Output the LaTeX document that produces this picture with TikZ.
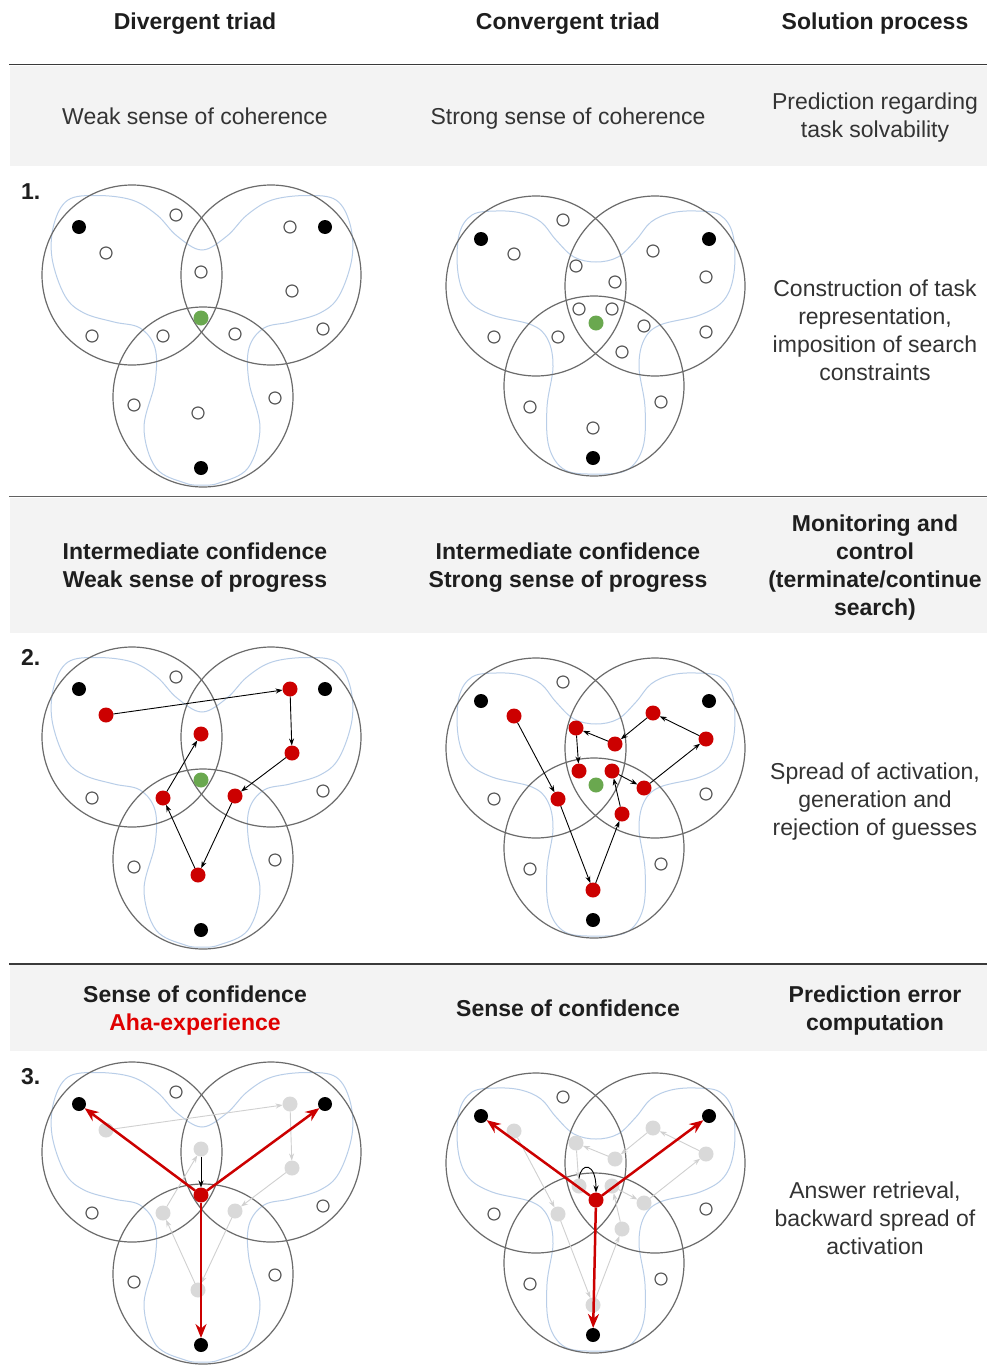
\documentclass[tikz,border=0pt]{standalone}
\usepackage{fontspec}
\setmainfont{Liberation Sans}
\usetikzlibrary{arrows.meta}
\definecolor{band}{HTML}{F3F3F3}
\definecolor{rulec}{HTML}{3A3A3A}
\definecolor{txt}{HTML}{333333}
\definecolor{hd}{HTML}{1E1E1E}
\definecolor{ringc}{HTML}{6B6B6B}
\definecolor{blobc}{HTML}{B9CEE8}
\definecolor{actred}{HTML}{CC0000}
\definecolor{ahared}{HTML}{E00000}
\definecolor{grn}{HTML}{6AA84F}
\definecolor{ghost}{HTML}{D9D9D9}
\definecolor{ghostline}{HTML}{D0D0D0}
\newcommand{\divrings}{%
  \draw[blob] plot[smooth cycle, tension=0.6] coordinates {(202,250) (227,236) (247,215) (272,200) (307,195.5) (336,200) (350,224) (352,258) (339,296) (320,313) (290,322) (264,328) (249,348) (249,382) (260,428) (248,468) (219,483) (202,485) (185,483) (156,468) (144,428) (155,382) (155,348) (140,328) (114,322) (84,313) (65,296) (52,258) (54,224) (68,200) (97,195.5) (132,200) (157,215) (177,236)};
  \draw[ring] (132,275) circle[radius=90pt];
  \draw[ring] (271,275) circle[radius=90pt];
  \draw[ring] (203,397) circle[radius=90pt];}
\newcommand{\convrings}{%
  \draw[blob] plot[smooth cycle, tension=0.6] coordinates {(596,262) (618,257) (636,240) (651,222) (671,213) (696,211) (720,215) (733,235) (734,273) (724,300) (700,315) (660,325) (644,340) (639,367) (645,407) (643,447) (627,470) (596,474) (565,470) (549,447) (547,407) (553,367) (548,340) (532,325) (492,315) (468,300) (458,273) (459,235) (472,215) (496,211) (521,213) (541,222) (556,240) (574,257)};
  \draw[ring] (536,286) circle[radius=90pt];
  \draw[ring] (655,286) circle[radius=90pt];
  \draw[ring] (594,386) circle[radius=90pt];}
\begin{document}
\begin{tikzpicture}[x=1pt,y=-1pt,
  every node/.style={inner sep=0pt, outer sep=0pt},
  opendot/.style={circle, draw=ringc!85!black, line width=1.2pt, fill=white, minimum size=12pt},
  blackdot/.style={circle, fill=black, minimum size=14pt},
  reddot/.style={circle, fill=actred, minimum size=15pt},
  greendot/.style={circle, fill=grn, minimum size=15pt},
  ghostdot/.style={circle, fill=ghost, minimum size=15pt},
  ring/.style={draw=ringc, line width=1.2pt},
  blob/.style={draw=blobc, line width=1pt},
  walk/.style={-{Stealth[length=7pt,width=5pt]}, line width=0.9pt, black},
  ghostwalk/.style={-{Stealth[length=7pt,width=5pt]}, line width=0.9pt, ghostline},
  retrieve/.style={-{Stealth[length=14pt,width=11pt]}, line width=2.5pt, actred},
  hdtext/.style={font=\fontsize{23}{28}\selectfont\bfseries, text=hd, align=center, anchor=base},
  bodytext/.style={font=\fontsize{23}{28}\selectfont, text=txt, align=center, anchor=base},
]
\useasboundingbox[fill=white] (0,0) rectangle (987,1365);

% bands and rules
\fill[band] (10,66) rectangle (987,166);
\fill[band] (10,498) rectangle (987,633);
\fill[band] (10,965) rectangle (987,1051);
\draw[rulec, line width=1.4pt] (9,64.5) -- (987,64.5);
\draw[rulec!80, line width=1.4pt] (9,496.5) -- (987,496.5);
\draw[rulec, line width=1.4pt] (9,964) -- (987,964);

% texts (base anchor = baseline of the last line)
\node[hdtext] (h1) at (195,29) {Divergent triad};
\node[hdtext] (h2) at (568,29) {Convergent triad};
\node[hdtext] (h3) at (875,29) {Solution process};
\node[bodytext] (r1a) at (195,124.3) {Weak sense of coherence};
\node[bodytext] (r1b) at (568,124.3) {Strong sense of coherence};
\node[bodytext] (r1c) at (875,137) {Prediction regarding\\task solvability};
\node[hdtext, anchor=base west] (n1) at (21,199) {1.};
\node[bodytext] (s1) at (875,380) {Construction of task\\representation,\\imposition of search\\constraints};
\node[hdtext] (r2a) at (195,587.3) {Intermediate confidence\\Weak sense of progress};
\node[hdtext] (r2b) at (568,587.3) {Intermediate confidence\\Strong sense of progress};
\node[hdtext] (r2c) at (875,615) {Monitoring and\\control\\(terminate/continue\\search)};
\node[hdtext, anchor=base west] (n2) at (21,665) {2.};
\node[bodytext] (s2) at (875,835) {Spread of activation,\\generation and\\rejection of guesses};
\node[hdtext] (r3a) at (195,1030) {Sense of confidence\\\textcolor{ahared}{Aha-experience}};
\node[hdtext] (r3b) at (568,1016) {Sense of confidence};
\node[hdtext] (r3c) at (875,1030) {Prediction error\\computation};
\node[hdtext, anchor=base west] (n3) at (21,1084) {3.};
\node[bodytext] (s3) at (875,1254) {Answer retrieval,\\backward spread of\\activation};

% ===== Panel 1 divergent =====
\begin{scope}
\divrings
\node[blackdot] (a1tl) at (79,227) {};
\node[blackdot] (a1tr) at (325,227) {};
\node[blackdot] (a1b) at (201,468) {};
\node[opendot] (a1o1) at (176,215) {};
\node[opendot] (a1o2) at (92,336) {};
\node[opendot] (a1o3) at (323,329) {};
\node[opendot] (a1o4) at (134,405) {};
\node[opendot] (a1o5) at (275,398) {};
\node[opendot] (a1p1) at (106,253) {};
\node[opendot] (a1p2) at (201,272) {};
\node[opendot] (a1p3) at (163,336) {};
\node[opendot] (a1p4) at (235,334) {};
\node[opendot] (a1p5) at (290,227) {};
\node[opendot] (a1p6) at (292,291) {};
\node[opendot] (a1p7) at (198,413) {};
\node[greendot] (a1g) at (201,318) {};
\end{scope}

% ===== Panel 1 convergent =====
\begin{scope}
\convrings
\node[blackdot] (b1tl) at (481,239) {};
\node[blackdot] (b1tr) at (709,239) {};
\node[blackdot] (b1b) at (593,458) {};
\node[opendot] (b1o1) at (563,220) {};
\node[opendot] (b1o2) at (494,337) {};
\node[opendot] (b1o3) at (706,332) {};
\node[opendot] (b1o4) at (530,407) {};
\node[opendot] (b1o5) at (661,402) {};
\node[opendot] (b1p1) at (514,254) {};
\node[opendot] (b1p2) at (576,266) {};
\node[opendot] (b1p3) at (615,282) {};
\node[opendot] (b1p4) at (653,251) {};
\node[opendot] (b1p5) at (706,277) {};
\node[opendot] (b1p6) at (579,309) {};
\node[opendot] (b1p7) at (612,309) {};
\node[opendot] (b1p8) at (644,326) {};
\node[opendot] (b1p9) at (558,337) {};
\node[opendot] (b1p10) at (622,352) {};
\node[opendot] (b1p11) at (593,428) {};
\node[greendot] (b1g) at (596,323) {};
\end{scope}

% ===== Panel 2 divergent =====
\begin{scope}[shift={(0,462)}]
\divrings
\node[blackdot] (a2tl) at (79,227) {};
\node[blackdot] (a2tr) at (325,227) {};
\node[blackdot] (a2b) at (201,468) {};
\node[opendot] (a2o1) at (176,215) {};
\node[opendot] (a2o2) at (92,336) {};
\node[opendot] (a2o3) at (323,329) {};
\node[opendot] (a2o4) at (134,405) {};
\node[opendot] (a2o5) at (275,398) {};
\node[reddot] (a2p1) at (106,253) {};
\node[reddot] (a2p2) at (201,272) {};
\node[reddot] (a2p3) at (163,336) {};
\node[reddot] (a2p4) at (235,334) {};
\node[reddot] (a2p5) at (290,227) {};
\node[reddot] (a2p6) at (292,291) {};
\node[reddot] (a2p7) at (198,413) {};
\node[greendot] (a2g) at (201,318) {};
\draw[walk] (a2p1) -- (a2p5);
\draw[walk] (a2p5) -- (a2p6);
\draw[walk] (a2p6) -- (a2p4);
\draw[walk] (a2p4) -- (a2p7);
\draw[walk] (a2p7) -- (a2p3);
\draw[walk] (a2p3) -- (a2p2);
\end{scope}

% ===== Panel 2 convergent =====
\begin{scope}[shift={(0,462)}]
\convrings
\node[blackdot] (b2tl) at (481,239) {};
\node[blackdot] (b2tr) at (709,239) {};
\node[blackdot] (b2b) at (593,458) {};
\node[opendot] (b2o1) at (563,220) {};
\node[opendot] (b2o2) at (494,337) {};
\node[opendot] (b2o3) at (706,332) {};
\node[opendot] (b2o4) at (530,407) {};
\node[opendot] (b2o5) at (661,402) {};
\node[reddot] (b2p1) at (514,254) {};
\node[reddot] (b2p2) at (576,266) {};
\node[reddot] (b2p3) at (615,282) {};
\node[reddot] (b2p4) at (653,251) {};
\node[reddot] (b2p5) at (706,277) {};
\node[reddot] (b2p6) at (579,309) {};
\node[reddot] (b2p7) at (612,309) {};
\node[reddot] (b2p8) at (644,326) {};
\node[reddot] (b2p9) at (558,337) {};
\node[reddot] (b2p10) at (622,352) {};
\node[reddot] (b2p11) at (593,428) {};
\node[greendot] (b2g) at (596,323) {};
\draw[walk] (b2p1) -- (b2p9);
\draw[walk] (b2p9) -- (b2p11);
\draw[walk] (b2p11) -- (b2p10);
\draw[walk] (b2p10) -- (b2p7);
\draw[walk] (b2p7) -- (b2p8);
\draw[walk] (b2p8) -- (b2p5);
\draw[walk] (b2p5) -- (b2p4);
\draw[walk] (b2p4) -- (b2p3);
\draw[walk] (b2p3) -- (b2p2);
\draw[walk] (b2p2) -- (b2p6);
\end{scope}

% ===== Panel 3 divergent =====
\begin{scope}[shift={(0,877)}]
\divrings
\node[blackdot] (a3tl) at (79,227) {};
\node[blackdot] (a3tr) at (325,227) {};
\node[blackdot] (a3b) at (201,468) {};
\node[opendot] (a3o1) at (176,215) {};
\node[opendot] (a3o2) at (92,336) {};
\node[opendot] (a3o3) at (323,329) {};
\node[opendot] (a3o4) at (134,405) {};
\node[opendot] (a3o5) at (275,398) {};
\node[ghostdot] (a3p1) at (106,253) {};
\node[ghostdot] (a3p2) at (201,272) {};
\node[ghostdot] (a3p3) at (163,336) {};
\node[ghostdot] (a3p4) at (235,334) {};
\node[ghostdot] (a3p5) at (290,227) {};
\node[ghostdot] (a3p6) at (292,291) {};
\node[ghostdot] (a3p7) at (198,413) {};
\node[reddot] (a3g) at (201,318) {};
\draw[ghostwalk] (a3p1) -- (a3p5);
\draw[ghostwalk] (a3p5) -- (a3p6);
\draw[ghostwalk] (a3p6) -- (a3p4);
\draw[ghostwalk] (a3p4) -- (a3p7);
\draw[ghostwalk] (a3p7) -- (a3p3);
\draw[ghostwalk] (a3p3) -- (a3p2);
\draw[walk] (a3p2) -- (a3g);
\draw[retrieve] (a3g) -- (a3tl);
\draw[retrieve] (a3g) -- (a3tr);
\draw[retrieve] (a3g) -- (a3b);
\end{scope}

% ===== Panel 3 convergent =====
\begin{scope}[shift={(0,877)}]
\convrings
\node[blackdot] (b3tl) at (481,239) {};
\node[blackdot] (b3tr) at (709,239) {};
\node[blackdot] (b3b) at (593,458) {};
\node[opendot] (b3o1) at (563,220) {};
\node[opendot] (b3o2) at (494,337) {};
\node[opendot] (b3o3) at (706,332) {};
\node[opendot] (b3o4) at (530,407) {};
\node[opendot] (b3o5) at (661,402) {};
\node[ghostdot] (b3p1) at (514,254) {};
\node[ghostdot] (b3p2) at (576,266) {};
\node[ghostdot] (b3p3) at (615,282) {};
\node[ghostdot] (b3p4) at (653,251) {};
\node[ghostdot] (b3p5) at (706,277) {};
\node[ghostdot] (b3p6) at (579,309) {};
\node[ghostdot] (b3p7) at (612,309) {};
\node[ghostdot] (b3p8) at (644,326) {};
\node[ghostdot] (b3p9) at (558,337) {};
\node[ghostdot] (b3p10) at (622,352) {};
\node[ghostdot] (b3p11) at (593,428) {};
\node[reddot] (b3g) at (596,323) {};
\draw[ghostwalk] (b3p1) -- (b3p9);
\draw[ghostwalk] (b3p9) -- (b3p11);
\draw[ghostwalk] (b3p11) -- (b3p10);
\draw[ghostwalk] (b3p10) -- (b3p7);
\draw[ghostwalk] (b3p7) -- (b3p8);
\draw[ghostwalk] (b3p8) -- (b3p5);
\draw[ghostwalk] (b3p5) -- (b3p4);
\draw[ghostwalk] (b3p4) -- (b3p3);
\draw[ghostwalk] (b3p3) -- (b3p2);
\draw[ghostwalk] (b3p2) -- (b3p6);
\draw[walk] (b3p6.north) .. controls +(2,-17) and +(0,-30) .. (b3g.north);
\draw[retrieve] (b3g) -- (b3tl);
\draw[retrieve] (b3g) -- (b3tr);
\draw[retrieve] (b3g) -- (b3b);
\end{scope}
\end{tikzpicture}
\end{document}
